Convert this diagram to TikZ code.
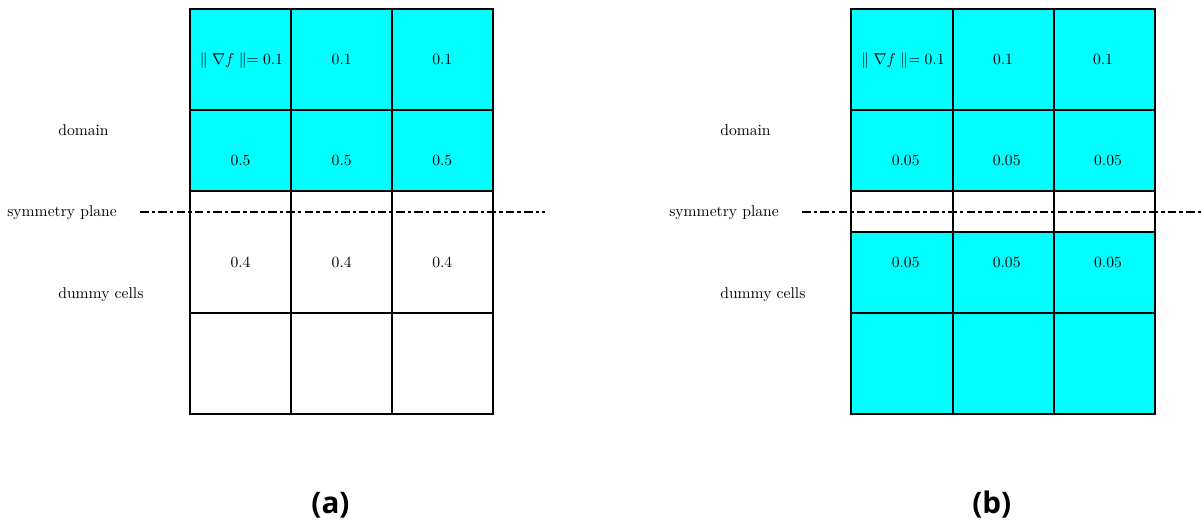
\documentclass[tikz,border=0pt]{standalone}
\usepackage{fontspec}
\newfontfamily\capfont{Open Sans}
\definecolor{cellcyan}{RGB}{0,255,255}
\begin{document}
\begin{tikzpicture}[x=0.64pt,y=-0.64pt,
  gridline/.style={line width=1.8pt},
  cellfill/.style={fill=cellcyan},
  symline/.style={line width=1.7pt, dash pattern=on 5.5pt off 2pt on 2.2pt off 2pt},
  lbl/.style={anchor=base, inner sep=0pt, font=\fontsize{10}{12}\selectfont},
  side/.style={anchor=base west, inner sep=0pt, font=\fontsize{10}{12}\selectfont},
  captext/.style={inner sep=0pt, font=\capfont\bfseries\fontsize{19}{22}\selectfont}]
\useasboundingbox (0,0) rectangle (1201,522);

% ---------- panel (a) ----------
\fill[cellfill] (190,9) rectangle (493,191);
\draw[gridline] (190,9) rectangle (493,414);
\foreach \yy in {110,191,313} \draw[gridline] (190,\yy) -- (493,\yy);
\foreach \xx in {291,392} \draw[gridline] (\xx,9) -- (\xx,414);

\node[lbl] (a11) at (241.5,65) {$\parallel \nabla f \parallel= 0.1$};
\node[lbl] (a12) at (341.7,65) {$0.1$};
\node[lbl] (a13) at (442.3,65) {$0.1$};
\node[lbl] (a21) at (240.5,166) {$0.5$};
\node[lbl] (a22) at (341.7,166) {$0.5$};
\node[lbl] (a23) at (442.3,166) {$0.5$};
\node[lbl] (a31) at (240.5,267) {$0.4$};
\node[lbl] (a32) at (341.7,267) {$0.4$};
\node[lbl] (a33) at (442.3,267) {$0.4$};

\node[side] (adom) at (58,136) {domain};
\node[side] (asym) at (7,217) {symmetry plane};
\node[side] (adum) at (58,298) {dummy cells};
\coordinate (asymL) at (140,212);
\coordinate (asymR) at (545,212);
\draw[symline] (asymL) -- (asymR);
\node[captext] (capa) at (330.5,505) {(a)};

% ---------- panel (b) ----------
\fill[cellfill] (851,9) rectangle (1155,191);
\fill[cellfill] (851,232) rectangle (1155,414);
\draw[gridline] (851,9) rectangle (1155,414);
\foreach \yy in {110,191,232,313} \draw[gridline] (851,\yy) -- (1155,\yy);
\foreach \xx in {953,1054} \draw[gridline] (\xx,9) -- (\xx,414);

\node[lbl] (b11) at (903,65) {$\parallel \nabla f \parallel= 0.1$};
\node[lbl] (b12) at (1003,65) {$0.1$};
\node[lbl] (b13) at (1103,65) {$0.1$};
\node[lbl] (b21) at (905.7,166) {$0.05$};
\node[lbl] (b22) at (1006.7,166) {$0.05$};
\node[lbl] (b23) at (1108,166) {$0.05$};
\node[lbl] (b31) at (905.7,267) {$0.05$};
\node[lbl] (b32) at (1006.7,267) {$0.05$};
\node[lbl] (b33) at (1108,267) {$0.05$};

\node[side] (bdom) at (720,136) {domain};
\node[side] (bsym) at (669,217) {symmetry plane};
\node[side] (bdum) at (720,298) {dummy cells};
\coordinate (bsymL) at (802,212);
\coordinate (bsymR) at (1201,212);
\draw[symline] (bsymL) -- (bsymR);
\node[captext] (capb) at (991.7,505) {(b)};
\end{tikzpicture}
\end{document}
